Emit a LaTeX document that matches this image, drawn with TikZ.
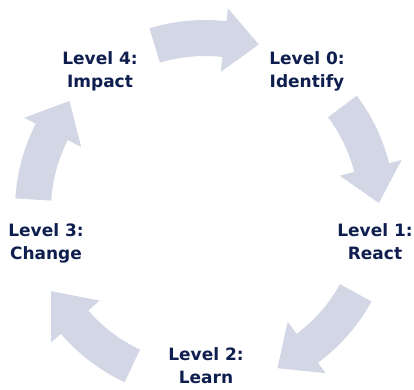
\documentclass[tikz,border=0pt]{standalone}
\usepackage{fontspec}
\setmainfont{DejaVu Sans}
\definecolor{cyclenavy}{HTML}{0E1E4E}
\definecolor{cyclegrey}{HTML}{D3D6E4}

\begin{document}
\begin{tikzpicture}[x=1bp,y=1bp,
  level/.style={anchor=north,inner sep=0pt,align=center,text=cyclenavy,
    font=\fontsize{17bp}{23.5bp}\selectfont\bfseries},
  cyclearrow/.style={fill=cyclegrey,draw=none}]
   \useasboundingbox (0,0) rectangle (414,390);
   \coordinate (C) at (205,180);
   % curved arrows: tail angle / head angle / tip angle
   \foreach \a/\h/\t in {107/83.5/72, 37/14.3/2.3, -28.8/-53.5/-65.4,
                         -115/-139.3/-152.2, 176.5/153/141.2}
   {
     \path[cyclearrow,shift={(C)}] (\a:190) arc[start angle=\a,end angle=\h,radius=190]
       -- (\h:203) -- (\t:174) -- (\h:139)
       -- (\h:154) arc[start angle=\h,end angle=\a,radius=154] -- cycle;
   }
   \path (100,339) node[level] (L4) {Level 4:\\Impact};
   \path (307,339) node[level] (L0) {Level 0:\\Identify};
   \path (375,167) node[level] (L1) {Level 1:\\React};
   \path (206,43) node[level] (L2) {Level 2:\\Learn};
   \path (46,167) node[level] (L3) {Level 3:\\Change};
\end{tikzpicture}
\end{document}
